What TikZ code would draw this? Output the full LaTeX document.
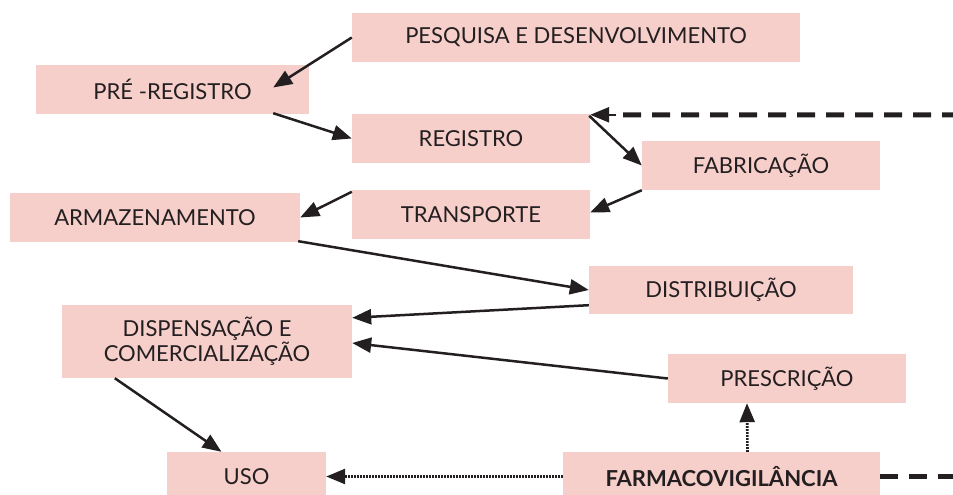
\documentclass[tikz,border=0pt]{standalone}
\usepackage{fontspec}
\setmainfont{Lato}
\usepackage{tikz}
\usetikzlibrary{arrows.meta, calc}
\definecolor{rosa}{RGB}{246,206,202}
\definecolor{tinta}{RGB}{35,31,32}

\begin{document}
\begin{tikzpicture}[x=1pt, y=-1pt,
        etapa/.style={fill=rosa, text=tinta, inner sep=0pt, align=center,
            minimum height=49pt, font=\fontsize{22}{25}\selectfont},
        seta/.style={-{Triangle[length=19pt,width=15pt]}, line width=2.5pt, tinta},
        pontilhada/.style={-{Triangle[length=19pt,width=15pt]}, line width=2.6pt, tinta,
            dash pattern=on 1.6pt off 1.4pt},
        tracejada/.style={line width=5pt, tinta, dash pattern=on 18pt off 11pt}]
        \useasboundingbox (0,0) rectangle (953,495);
        \clip (0,0) rectangle (953,495);

        \node[etapa, minimum width=448pt] (pesq) at (576,37.5) {PESQUISA E DESENVOLVIMENTO};
        \node[etapa, minimum width=273pt] (pre) at (172.5,89.5) {PRÉ -REGISTRO};
        \node[etapa, minimum width=238pt] (reg) at (471,138.5) {REGISTRO};
        \node[etapa, minimum width=238pt] (fab) at (761,165.5) {FABRICAÇÃO};
        \node[etapa, minimum width=238pt] (transp) at (471,214.5) {TRANSPORTE};
        \node[etapa, minimum width=290pt] (armaz) at (155,217.5) {ARMAZENAMENTO};
        \node[etapa, minimum width=264pt, minimum height=48pt] (distr) at (721,290) {DISTRIBUIÇÃO};
        \node[etapa, minimum width=290pt, minimum height=73pt] (disp) at (207,341.5) {DISPENSAÇÃO E\\COMERCIALIZAÇÃO};
        \node[etapa, minimum width=238pt] (presc) at (787,378.5) {PRESCRIÇÃO};
        \node[etapa, minimum width=317pt, font=\fontsize{22}{25}\selectfont\bfseries] (farm) at (721.5,476.5) {FARMACOVIGILÂNCIA};
        \node[etapa, minimum width=159pt] (uso) at (246.5,476.5) {USO};

        \coordinate (margemA) at (960,115);
        \coordinate (margemB) at (960,476.5);

        \draw[seta] (pesq.west) -- ($(pre.east)+(-36,-2)$);
        \draw[seta] ($(pre.south east)+(-36,-1)$) -- (reg.west);
        \draw[seta] ($(reg.north east)+(-1,2)$) -- (fab.west);
        \draw[seta] (fab.south west) -- ($(transp.east)+(0,-2)$);
        \draw[seta] ($(transp.north west)+(0,2)$) -- (armaz.east);
        \draw[seta] ($(armaz.south east)+(-2,-1)$) -- (distr.west);
        \draw[seta] ($(distr.south west)+(0,-9)$) -- ($(disp.north east)+(0,13)$);
        \draw[seta] (presc.west) -- ($(disp.east)+(0,1.5)$);
        \draw[seta] ($(disp.south west)+(53,0)$) -- ($(uso.north)+(-25,0)$);
        \draw[pontilhada] (farm.west) -- (uso.east);
        \draw[pontilhada] ($(farm.north)+(26,0)$) -- ($(presc.south)+(-40,0)$);
        \draw[tracejada] (farm.east) -- (margemB);
        \draw[tracejada] (margemA) -- ($(reg.north east)+(24,1)$);
        \draw[seta] ($(reg.north east)+(26,1)$) -- ($(reg.north east)+(0,1)$);
    \end{tikzpicture}
\end{document}
